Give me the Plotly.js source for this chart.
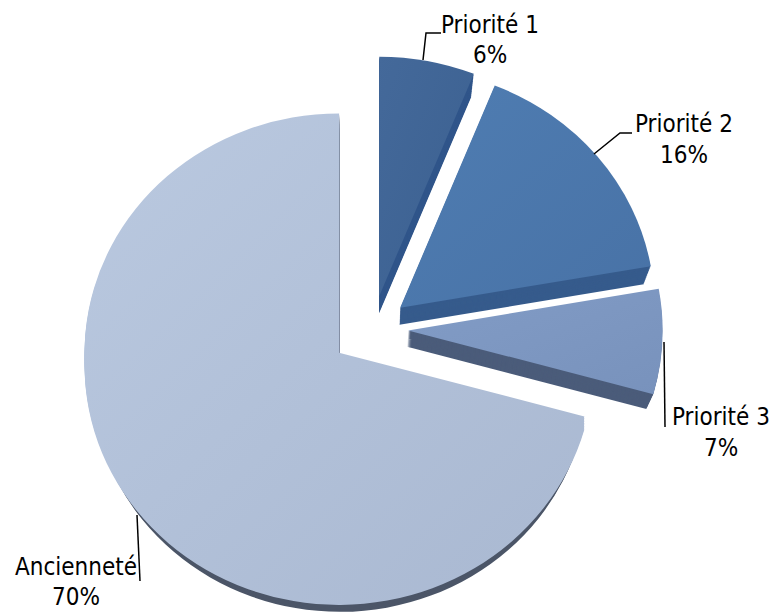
<!DOCTYPE html>
<html>
<head>
<meta charset="utf-8">
<script src="https://cdn.plot.ly/plotly-3.0.1.min.js"></script>
<style>html,body{margin:0;padding:0;background:#fff;overflow:hidden}
#frame{width:776px;height:613px;overflow:hidden}</style>
</head>
<body>
<div id="frame"><div id="chart"></div></div>
<script>
// Share of each allocation criterion
const categories = ["Priorité 1", "Priorité 2", "Priorité 3", "Ancienneté"];
const shares = [6, 16, 7, 70];
const pulls = [0.14, 0.14, 0.14, 0.165];

// Slice colours: light and dark ends of the top face, and the side wall
const topLight = ["#44699A", "#4F7DB2", "#829CC6", "#BAC9E0"];
const topDark = ["#3B6090", "#4872A6", "#7892BC", "#A9B8D1"];
const sideColours = ["#30558A", "#365B8C", "#4B5C7A", "#4C5668"];
const clear = "rgba(0,0,0,0)";

// Pie geometry in pixels; the drawing surface runs past the visible frame
const W = 776, H = 613, plotH = 690;
const centreX = 372.5, centreY = 320, size = 593;
const squash = 0.94, lift = 28;
const wallDrop = 16.5, wallShrink = 0.025, wallSteps = 16;
const largeDrop = 26.5, faceDrop = 13, faceSteps = 8;

function domainAt(offset, scale) {
  const half = size * scale / 2;
  return {
    x: [(centreX - half) / W, (centreX + half) / W],
    y: [1 - (centreY + offset + half) / plotH, 1 - (centreY + offset - half) / plotH]
  };
}

function pieTrace(colours, offset, scale) {
  return {
    type: "pie",
    labels: categories,
    values: shares,
    pull: pulls,
    sort: false,
    direction: "clockwise",
    rotation: 0,
    textinfo: "none",
    hoverinfo: "none",
    showlegend: false,
    domain: domainAt(offset, scale),
    marker: {colors: colours, line: {width: 0}}
  };
}

const traces = [];
const largeOnly = c => [clear, clear, clear, c];
const smallOnly = c => [c[0], c[1], c[2], clear];

// Wall of the large slice, deeper because it sits nearest the viewer
for (let i = wallSteps; i >= 1; i--) {
  const t = i / wallSteps;
  traces.push(pieTrace(largeOnly(sideColours[3]), t * largeDrop / squash, 1 - t * wallShrink));
}
// Near edge of the large slice's face bulges toward the viewer
const faceLayers = [];
for (let i = faceSteps; i >= 1; i--) {
  faceLayers.push(traces.length);
  traces.push(pieTrace(largeOnly(topDark[3]), (i / faceSteps) * faceDrop / squash, 1));
}
// Walls of the three small slices
for (let i = wallSteps; i >= 1; i--) {
  const t = i / wallSteps;
  traces.push(pieTrace(smallOnly(sideColours), t * wallDrop / squash, 1 - t * wallShrink));
}
// Top faces
traces.push(pieTrace(topDark, 0, 1));

// Data labels and their leader lines
const labelX = [490, 684, 721, 76];
const nameY = [25, 124, 417, 567];
const shareY = [55, 155, 448, 597];
const leaderPaths = [
  "M 423 60 L 426 33 L 441 33",
  "M 594 154 L 620 133 L 632 133",
  "M 664 342 L 665 427",
  "M 137 515 L 140 581"
];

function labelAt(text, x, y) {
  return {
    text: text,
    x: x / W,
    y: 1 - y / plotH,
    xref: "paper",
    yref: "paper",
    xanchor: "center",
    yanchor: "middle",
    showarrow: false,
    font: {family: "'DejaVu Sans Condensed', 'DejaVu Sans', sans-serif", size: 24, color: "#000"}
  };
}

const annotations = [];
categories.forEach((name, i) => {
  annotations.push(labelAt(name, labelX[i], nameY[i]));
  annotations.push(labelAt(shares[i] + "%", labelX[i], shareY[i]));
});

const shapes = leaderPaths.map(p => {
  const px = p.replace(/(\d+) (\d+)/g, (m, a, b) => (a / W) + " " + (1 - b / plotH));
  return {type: "path", xref: "paper", yref: "paper", path: px, line: {color: "#000", width: 1.5}};
});

const layout = {
  width: W,
  height: plotH,
  margin: {l: 0, r: 0, t: 0, b: 0},
  paper_bgcolor: "#fff",
  annotations: annotations,
  shapes: shapes
};

Plotly.newPlot("chart", traces, layout, {displayModeBar: false, staticPlot: true}).then(gd => {
  const svg = gd.querySelector(".main-svg");
  const layer = gd.querySelector(".pielayer");
  // Tilt the pie slightly so it reads as seen from above
  layer.setAttribute("transform", `matrix(1 0 0 ${squash} 0 ${lift})`);

  // Soft diagonal shading across the top faces
  const ns = "http://www.w3.org/2000/svg";
  const defs = document.createElementNS(ns, "defs");
  topLight.forEach((c, i) => {
    const g = document.createElementNS(ns, "linearGradient");
    g.setAttribute("id", "shade" + i);
    g.setAttribute("x1", "0"); g.setAttribute("y1", "0");
    g.setAttribute("x2", "1"); g.setAttribute("y2", "1");
    [[0, c], [1, topDark[i]]].forEach(([o, col]) => {
      const s = document.createElementNS(ns, "stop");
      s.setAttribute("offset", o);
      s.setAttribute("stop-color", col);
      g.appendChild(s);
    });
    defs.appendChild(g);
  });
  svg.appendChild(defs);
  const groups = layer.querySelectorAll(".trace");
  groups[groups.length - 1].querySelectorAll(".slice path.surface").forEach((p, i) => {
    p.style.fill = `url(#shade${i})`;
  });
  faceLayers.forEach(k => {
    const surfaces = groups[k].querySelectorAll(".slice path.surface");
    surfaces[3].style.fill = "url(#shade3)";
  });
});
</script>
</body>
</html>
